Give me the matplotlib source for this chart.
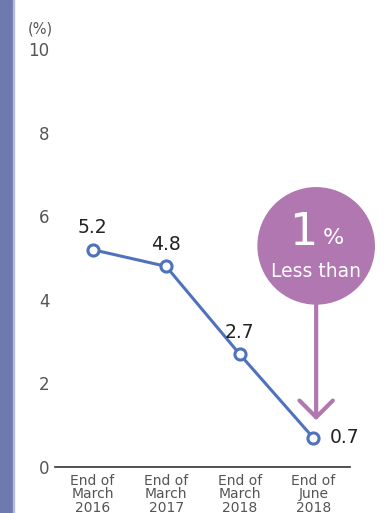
import matplotlib.pyplot as plt
from matplotlib.patches import Ellipse, Rectangle

# datos
periodos = ["End of\nMarch\n2016", "End of\nMarch\n2017", "End of\nMarch\n2018", "End of\nJune\n2018"]
valores = [5.2, 4.8, 2.7, 0.7]
etiquetas = ["5.2", "4.8", "2.7", "0.7"]
ticks_y = [0, 2, 4, 6, 8, 10]

azul = "#4f72bd"
morado = "#b077b1"
gris = "#555555"

plt.rcParams['font.family'] = ['DejaVu Sans']

fig = plt.figure(figsize=(3.89, 5.13), dpi=100)
# franja lateral
fig.patches.append(Rectangle((0, 0), 13 / 389, 1, transform=fig.transFigure, color="#6e79ae", zorder=0))
fig.patches.append(Rectangle((13 / 389, 0), 1.5 / 389, 1, transform=fig.transFigure, color="#b4badb", zorder=0))

ax = fig.add_axes([55 / 389, 46 / 513, 295 / 389, 418 / 513])
x = list(range(len(valores)))
ax.plot(x, valores, color=azul, lw=2.2, marker="o", ms=8, mfc="white", mec=azul, mew=2.2, clip_on=False, zorder=3)

# etiquetas de valores
for i in range(3):
    ax.annotate(etiquetas[i], (x[i], valores[i]), xytext=(0, 9), textcoords="offset points",
                ha="center", va="bottom", fontsize=13.5, color="#222222")
ax.annotate(etiquetas[3], (x[3], valores[3]), xytext=(12, 0), textcoords="offset points",
            ha="left", va="center", fontsize=13.5, color="#222222")

ax.set_xlim(-0.51, 3.5)
ax.set_ylim(0, 10)
ax.set_yticks(ticks_y)
ax.set_yticklabels([str(t) for t in ticks_y], fontsize=12, color=gris)
ax.set_xticks(x)
ax.set_xticklabels(periodos, fontsize=10, color=gris, linespacing=0.95)
ax.tick_params(axis="both", length=0)
ax.tick_params(axis="x", pad=5)
ax.tick_params(axis="y", pad=4)
for s in ["top", "right", "left"]:
    ax.spines[s].set_visible(False)
ax.spines["bottom"].set_color("#333333")
ax.spines["bottom"].set_linewidth(1.2)
ax.text(-0.05, 1.03, "(%)", transform=ax.transAxes, fontsize=10.5, color=gris, ha="center", va="bottom")

# circulo "menos de 1%"
cx, cy = 3.04, 5.29
c = Ellipse((cx, cy), 1.58, 2.78, color=morado, clip_on=False, zorder=4)
ax.add_patch(c)
ax.text(cx - 0.18, cy + 0.31, "1", fontsize=32, color="white", ha="center", va="center", zorder=5)
ax.text(cx + 0.23, cy + 0.19, "%", fontsize=16, color="white", ha="center", va="center", zorder=5)
ax.text(cx, cy - 0.62, "Less than", fontsize=13.5, color="white", ha="center", va="center", zorder=5)
ax.annotate("", xy=(cx, 1.12), xytext=(cx, cy - 1.39),
            arrowprops=dict(arrowstyle="->,head_length=0.6,head_width=0.6", color=morado, lw=3,
                            mutation_scale=20, shrinkA=0, shrinkB=0),
            annotation_clip=False, zorder=4)

fig.savefig("out.png", dpi=100)
